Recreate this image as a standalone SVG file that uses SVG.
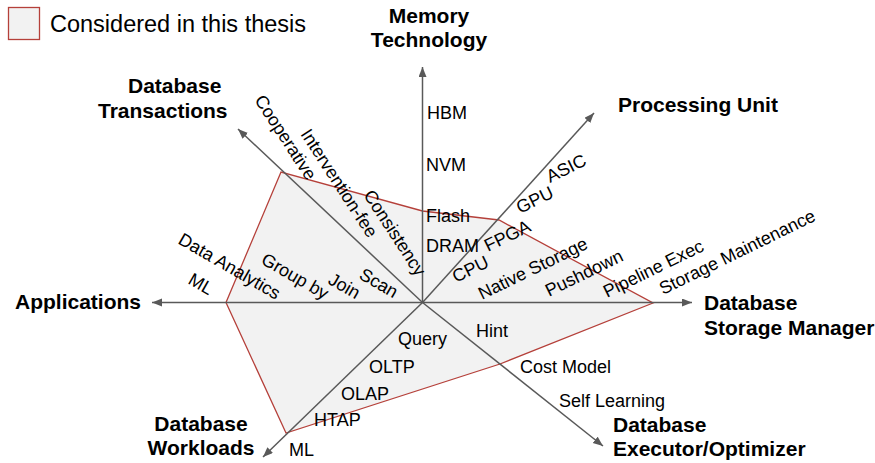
<svg xmlns="http://www.w3.org/2000/svg" width="875" height="463" viewBox="0 0 875 463">
  <style>
    .title { font-family: "Liberation Sans", Arial, sans-serif; font-weight: bold; font-size: 21px; fill: #000; }
    .lbl { font-family: "Liberation Sans", Arial, sans-serif; font-size: 18px; fill: #000; }
    .axis { stroke: #595959; stroke-width: 1.5; fill: none; marker-end: url(#arrow); }
    .area { fill: #f2f2f2; stroke: #b5403a; stroke-width: 1.3; stroke-linejoin: miter; }
  </style>
  <defs>
    <marker id="arrow" markerUnits="userSpaceOnUse" markerWidth="11" markerHeight="9" refX="10" refY="4" orient="auto">
      <path d="M0,0 L10,4 L0,8 Z" fill="#595959"/>
    </marker>
  </defs>

  <rect width="875" height="463" fill="#ffffff"/>

  <!-- legend -->
  <g id="legend">
    <rect x="8.5" y="7.5" width="31" height="32" class="area"/>
    <text x="50" y="32" class="lbl" style="font-size:23.5px">Considered in this thesis</text>
  </g>

  <!-- covered region -->
  <polygon id="coverage" class="area" points="422.5,211 499,220 653,303 500,364 286,433 226,302.5 281,172"/>

  <!-- axes -->
  <g id="connectors">
    <line class="axis" x1="422.5" y1="302.5" x2="422.5" y2="67"/>
    <line class="axis" x1="422.5" y1="302.5" x2="594" y2="113"/>
    <line class="axis" x1="422.5" y1="302.5" x2="692" y2="302.5"/>
    <line class="axis" x1="422.5" y1="302.5" x2="603" y2="446"/>
    <line class="axis" x1="422.5" y1="302.5" x2="263" y2="457"/>
    <line class="axis" x1="422.5" y1="302.5" x2="152" y2="302.5"/>
    <line class="axis" x1="422.5" y1="302.5" x2="238" y2="129"/>
  </g>

  <!-- Memory Technology -->
  <g id="memory">
    <text x="429" y="23" class="title" text-anchor="middle">Memory</text>
    <text x="429" y="47" class="title" text-anchor="middle">Technology</text>
    <text x="427" y="119" class="lbl">HBM</text>
    <text x="426" y="171" class="lbl">NVM</text>
    <text x="426" y="222" class="lbl">Flash</text>
    <text x="426" y="252" class="lbl">DRAM</text>
  </g>

  <!-- Processing Unit -->
  <g id="processing">
    <text x="618" y="112" class="title">Processing Unit</text>
    <text class="lbl" transform="translate(456,283) rotate(-26)">CPU</text>
    <text class="lbl" transform="translate(488,252) rotate(-26)">FPGA</text>
    <text class="lbl" transform="translate(520,214) rotate(-26)">GPU</text>
    <text class="lbl" transform="translate(550,183) rotate(-26)">ASIC</text>
  </g>

  <!-- Database Storage Manager -->
  <g id="storage">
    <text x="704" y="310" class="title">Database</text>
    <text x="704" y="335" class="title">Storage Manager</text>
    <text class="lbl" transform="translate(482,300) rotate(-26)">Native Storage</text>
    <text class="lbl" transform="translate(549,297) rotate(-26)">Pushdown</text>
    <text class="lbl" transform="translate(607,298) rotate(-26)">Pipeline Exec</text>
    <text class="lbl" transform="translate(663,295) rotate(-26)">Storage Maintenance</text>
  </g>

  <!-- Database Executor/Optimizer -->
  <g id="executor">
    <text x="613" y="432" class="title">Database</text>
    <text x="613" y="456" class="title">Executor/Optimizer</text>
    <text x="476" y="337" class="lbl">Hint</text>
    <text x="520" y="373" class="lbl">Cost Model</text>
    <text x="559" y="407" class="lbl">Self Learning</text>
  </g>

  <!-- Database Workloads -->
  <g id="workloads">
    <text x="201" y="431" class="title" text-anchor="middle">Database</text>
    <text x="201" y="455" class="title" text-anchor="middle">Workloads</text>
    <text x="398" y="345" class="lbl">Query</text>
    <text x="369" y="373" class="lbl">OLTP</text>
    <text x="341" y="400" class="lbl">OLAP</text>
    <text x="314" y="426" class="lbl">HTAP</text>
    <text x="289" y="456" class="lbl">ML</text>
  </g>

  <!-- Applications -->
  <g id="applications">
    <text x="15" y="309" class="title">Applications</text>
    <text class="lbl" transform="translate(177,243) rotate(30)">Data Analytics</text>
    <text class="lbl" transform="translate(187,283) rotate(30)">ML</text>
    <text class="lbl" transform="translate(260,263) rotate(30)">Group by</text>
    <text class="lbl" transform="translate(327,283) rotate(30)">Join</text>
    <text class="lbl" transform="translate(358,278) rotate(30)">Scan</text>
  </g>

  <!-- Database Transactions -->
  <g id="transactions">
    <text x="128" y="93" class="title">Database</text>
    <text x="98" y="118" class="title">Transactions</text>
    <text class="lbl" transform="translate(254,100) rotate(57)">Cooperative</text>
    <text class="lbl" transform="translate(300,134) rotate(57)">Intervention-fee</text>
    <text class="lbl" transform="translate(363,195) rotate(57)">Consistency</text>
  </g>
</svg>
